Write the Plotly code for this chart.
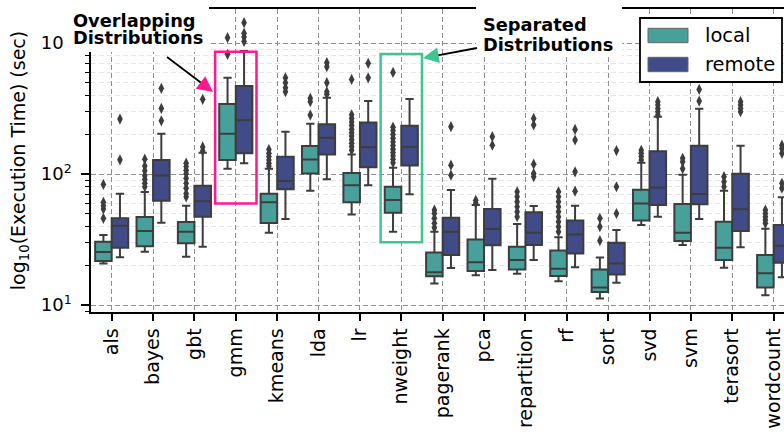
import plotly.graph_objects as go

# ---------------- data ----------------
categories = ["als", "bayes", "gbt", "gmm", "kmeans", "lda", "lr", "nweight",
              "pagerank", "pca", "repartition", "rf", "sort", "svd", "svm",
              "terasort", "wordcount"]

local_q1 = [21.7, 28.1, 29.7, 128, 42.3, 101, 60.8, 50.7, 16.6, 18.2, 18.7, 16.7, 12.6, 44.3, 30.8, 22.1, 13.6]
local_med = [25.4, 36.7, 36.3, 203, 60.8, 129, 82, 63.3, 17.8, 21.2, 22.1, 18.9, 13.6, 59.7, 35.6, 27.4, 17.5]
local_q3 = [30.4, 47, 43, 342, 70.8, 164, 102, 80, 25.2, 31.7, 27.9, 26.1, 18.7, 75.9, 59, 43.2, 24.1]
local_lo = [20.8, 25.5, 23.4, 110, 35.6, 74.6, 49.2, 36.3, 14.6, 16.9, 17.3, 15.2, 11.2, 40.8, 28.7, 19.3, 11.9]
local_hi = [34.2, 73, 57.3, 543, 110, 242, 141, 111.7, 36.3, 58, 41.5, 32.9, 23.1, 122, 98.8, 74.6, 38.2]
local_outliers = [
    [83.4, 60.8, 57.3, 54.1, 45.9],
    [130, 115, 106, 97, 91, 85, 80],
    [121, 114, 107, 101, 93, 85, 78, 71, 67],
    [1100, 820],
    [154, 144, 136, 128, 121, 115],
    [379, 357, 282],
    [528, 283, 266, 250, 235, 220, 207, 195, 183, 172, 162, 152],
    [597, 228, 215, 200, 188, 176, 165, 155, 146, 138, 130, 122],
    [53.1, 50.1, 45.9, 42.1, 39],
    [63, 60],
    [73.3, 67.1, 61.5, 56.3, 51.5, 47.2],
    [73.3, 67.1, 61.5, 56.3, 51.5, 47.2, 43.3, 39.6, 36.3],
    [45.9, 39.6, 31],
    [152, 144, 136, 128],
    [132, 124, 110],
    [95.5, 87.4, 80],
    [53.1, 50.1, 47.2, 44.5, 42.1],
]

remote_q1 = [27.4, 62.5, 47.2, 144, 76.4, 141, 112.5, 116, 24.1, 28.6, 28.7, 24.8, 17.1, 58, 58.7, 36.7, 21]
remote_med = [40.3, 97.7, 61.9, 258, 88.5, 189, 160, 161.6, 36.3, 38, 35.6, 34.6, 20.8, 79.1, 70.4, 53.8, 28.4]
remote_q3 = [45.9, 128, 81.4, 470, 135.5, 240, 248, 234, 46.4, 54.1, 51, 44.3, 29.9, 149, 164.5, 100.5, 40.8]
remote_lo = [23.2, 42.5, 27.9, 121, 45.3, 91.2, 82, 70, 19.2, 18.5, 22.1, 19.4, 14.8, 47.2, 45.3, 27.6, 16.3]
remote_hi = [70.8, 203, 145.5, 869, 210, 383, 361, 374, 75.5, 92, 57, 57.3, 37.4, 274, 315, 164.5, 66.4]
remote_outliers = [
    [263, 128.5],
    [451, 317, 255],
    [372, 161, 150],
    [1430, 1190, 1110, 1030],
    [543, 498, 456, 425],
    [708, 660, 498, 425, 407],
    [700, 543],
    [],
    [230, 117, 98],
    [193, 166],
    [266, 237, 119, 101, 95.5],
    [219, 182, 104, 74],
    [151, 80, 50],
    [357, 336, 317, 299, 282],
    [443, 361],
    [357, 336, 317, 299],
    [166, 157, 144, 85, 78],
]

y_tick_vals = [10, 100, 1000]
y_tick_text = ["10<sup>1</sup>", "10<sup>2</sup>", "10<sup>3</sup>"]
y_minor_vals = [9, 20, 30, 40, 50, 60, 70, 80, 90, 200, 300, 400, 500, 600, 700, 800, 900]

# ---------------- style ----------------
LOCAL_COLOR = "#48a09b"
REMOTE_COLOR = "#414b87"
EDGE = "#3d3d3d"
MAGENTA = "#ff1a8c"
GREEN = "#3cc88c"
FONT = "DejaVu Sans"

W, H = 784, 432
L, T, PW, PH = 91, 9, 693, 303


def px(x):
    return (x - L) / PW


def py(y):
    return (T + PH - y) / PH


idx = list(range(len(categories)))

fig = go.Figure()
series = [
    ("local", local_q1, local_med, local_q3, local_lo, local_hi, local_outliers, LOCAL_COLOR, -0.2),
    ("remote", remote_q1, remote_med, remote_q3, remote_lo, remote_hi, remote_outliers, REMOTE_COLOR, 0.2),
]
for name, q1, med, q3, lo, hi, outs, color, off in series:
    pos = [i + off for i in idx]
    fig.add_trace(go.Box(
        x=pos, q1=q1, median=med, q3=q3, lowerfence=lo, upperfence=hi,
        width=0.4, fillcolor=color, line=dict(color=EDGE, width=2),
        whiskerwidth=0.5, boxpoints=False, name=name, showlegend=False,
    ))
    ox, oy = [], []
    for p, vals in zip(pos, outs):
        ox += [p] * len(vals)
        oy += vals
    fig.add_trace(go.Scatter(
        x=ox, y=oy, mode="markers", showlegend=False,
        marker=dict(symbol="diamond-tall", size=8, color=EDGE, line=dict(width=0)),
    ))

fig.update_layout(
    width=W, height=H,
    margin=dict(l=L, r=W - L - PW, t=T, b=H - T - PH, pad=0),
    paper_bgcolor="white", plot_bgcolor="white",
    boxmode="overlay", showlegend=False,
    font=dict(family=FONT, color="black"),
)
fig.update_xaxes(
    range=[-0.5, 16.25], tickmode="array", tickvals=idx, ticktext=categories,
    tickangle=-90, tickfont=dict(size=19, family=FONT, color="black"),
    ticks="outside", ticklen=7, tickwidth=1.5, tickcolor="black",
    showline=True, linecolor="black", linewidth=1.5, mirror=True,
    showgrid=True, gridcolor="#8f8f8f", griddash="5px,3px", gridwidth=1,
    zeroline=False,
)
fig.update_yaxes(
    type="log", range=[0.947, 3.26],
    tickmode="array", tickvals=y_tick_vals, ticktext=y_tick_text,
    tickfont=dict(size=18, family=FONT, color="black"),
    ticks="outside", ticklen=8, tickwidth=1.5, tickcolor="black",
    ticklabelstandoff=6,
    showline=True, linecolor="black", linewidth=1.5, mirror=False,
    showgrid=True, gridcolor="#8f8f8f", griddash="5px,3px", gridwidth=1,
    zeroline=False,
    minor=dict(tickmode="array", tickvals=y_minor_vals, ticks="outside", ticklen=4,
               tickwidth=1, tickcolor="black", showgrid=True, gridcolor="#e6e6e6",
               griddash="5px,3px", gridwidth=1),
    title=dict(text="log<sub>10</sub>(Execution Time) (sec)",
               font=dict(size=19, family=FONT, color="black"), standoff=10),
)

shapes = []
# highlight rectangles around the two example workloads
shapes.append(dict(type="rect", xref="x", yref="y", x0=3 - 0.5, x1=3 + 0.5, y0=59.7, y1=860,
                   line=dict(color=MAGENTA, width=2.5), fillcolor="rgba(0,0,0,0)", layer="above"))
shapes.append(dict(type="rect", xref="x", yref="y", x0=7 - 0.5, x1=7 + 0.5, y0=30.1, y1=825,
                   line=dict(color=GREEN, width=2.5), fillcolor="rgba(0,0,0,0)", layer="above"))
# white text backgrounds of the callouts
shapes.append(dict(type="rect", xref="paper", yref="paper", x0=px(64), x1=px(209), y0=py(52), y1=py(-2),
                   line=dict(width=0), fillcolor="white", layer="above"))
shapes.append(dict(type="rect", xref="paper", yref="paper", x0=px(476), x1=px(622), y0=py(56), y1=py(-2),
                   line=dict(width=0), fillcolor="white", layer="above"))
# callout arrow shafts
shapes.append(dict(type="line", xref="paper", yref="paper", x0=px(167), y0=py(57), x1=px(204), y1=py(85),
                   line=dict(color="black", width=1.8), layer="above"))
shapes.append(dict(type="line", xref="paper", yref="paper", x0=px(477), y0=py(48), x1=px(435), y1=py(55.8),
                   line=dict(color="black", width=1.8), layer="above"))
# legend frame and patches
shapes.append(dict(type="rect", xref="paper", yref="paper", x0=px(640), x1=px(782), y0=py(82), y1=py(18),
                   line=dict(color="black", width=1.8), fillcolor="white", layer="above"))
shapes.append(dict(type="rect", xref="paper", yref="paper", x0=px(648), x1=px(688), y0=py(42.7), y1=py(28.3),
                   line=dict(color="#666666", width=1), fillcolor=LOCAL_COLOR, layer="above"))
shapes.append(dict(type="rect", xref="paper", yref="paper", x0=px(648), x1=px(688), y0=py(71.7), y1=py(57.3),
                   line=dict(color="#666666", width=1), fillcolor=REMOTE_COLOR, layer="above"))
fig.update_layout(shapes=shapes)

annotations = []
# callout texts
for txt, x, y in [("Overlapping", 72, 20.3), ("Distributions", 72, 37.5),
                  ("Separated", 482, 24.4), ("Distributions", 482, 44.1)]:
    annotations.append(dict(text="<b>" + txt + "</b>", xref="paper", yref="paper", x=px(x), y=py(y),
                            xanchor="left", yanchor="middle", showarrow=False, borderpad=0,
                            font=dict(size=17.8, family=FONT, color="black")))
# arrow heads
annotations.append(dict(text="", xref="paper", yref="paper", x=px(213), y=py(92), ax=-11.1, ay=-8.5,
                        showarrow=True, arrowhead=2, arrowsize=2.1, arrowwidth=1.5, arrowcolor=MAGENTA))
annotations.append(dict(text="", xref="paper", yref="paper", x=px(423), y=py(58), ax=13.8, ay=-2.5,
                        showarrow=True, arrowhead=2, arrowsize=2.1, arrowwidth=1.5, arrowcolor=GREEN))
# legend labels
for txt, y in [("local", 35), ("remote", 64.5)]:
    annotations.append(dict(text=txt, xref="paper", yref="paper", x=px(704), y=py(y),
                            xanchor="left", yanchor="middle", showarrow=False, borderpad=0,
                            font=dict(size=19.5, family=FONT, color="black")))
fig.update_layout(annotations=annotations)

fig.write_html("out.html")
